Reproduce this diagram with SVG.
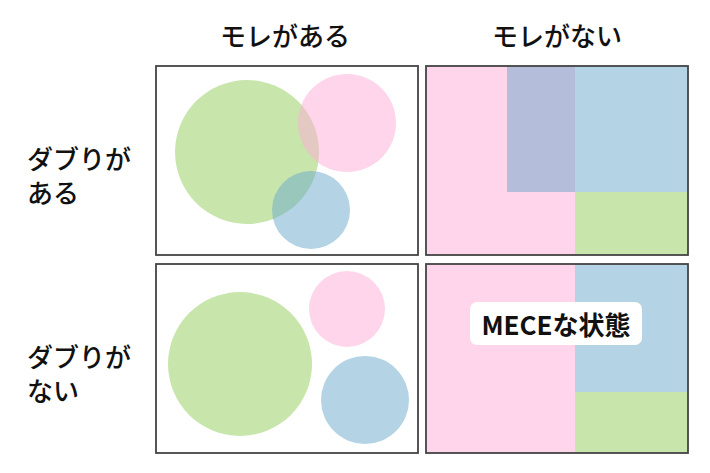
<svg xmlns="http://www.w3.org/2000/svg" width="710" height="473" viewBox="0 0 710 473">
<style>
.lbl{font-family:"Noto Sans CJK JP","Noto Sans",sans-serif;font-size:26px;font-weight:500;fill:#111}
.lbl.bold{font-weight:bold}
.frame{fill:none;stroke:#444;stroke-width:1.8}
.g{fill:#c8e6ac}
.p{fill:#fdabd5;fill-opacity:0.5}
.b{fill:#69a7cb;fill-opacity:0.5}
.ps{fill:#fed5ea}
</style>
<rect width="710" height="473" fill="#fff"/>
<g id="headers">
<text class="lbl" x="285" y="46" text-anchor="middle">モレがある</text>
<text class="lbl" x="557" y="46" text-anchor="middle">モレがない</text>
</g>
<g id="rowlabels">
<text class="lbl" x="27" y="169">ダブりが</text>
<text class="lbl" x="27" y="203">ある</text>
<text class="lbl" x="27" y="367">ダブりが</text>
<text class="lbl" x="27" y="401">ない</text>
</g>
<g id="panel-overlap-gap">
<circle class="g" cx="247" cy="152" r="72"/>
<circle class="p" cx="347" cy="123" r="49"/>
<circle class="b" cx="311" cy="210" r="39"/>
<rect class="frame" x="156" y="66" width="262" height="189"/>
</g>
<g id="panel-overlap-nogap">
<rect class="ps" x="426" y="66" width="149" height="189"/>
<rect class="b" x="507" y="66" width="181" height="126"/>
<rect class="g" x="575" y="192" width="113" height="63"/>
<rect class="frame" x="426" y="66" width="262" height="189"/>
</g>
<g id="panel-nooverlap-gap">
<circle class="g" cx="240" cy="364" r="72"/>
<circle class="p" cx="347" cy="309" r="38"/>
<circle class="b" cx="365" cy="400" r="44"/>
<rect class="frame" x="156" y="264" width="262" height="189"/>
</g>
<g id="panel-mece">
<rect class="ps" x="426" y="264" width="149" height="189"/>
<rect class="b" x="575" y="264" width="113" height="128"/>
<rect class="g" x="575" y="392" width="113" height="61"/>
<rect class="frame" x="426" y="264" width="262" height="189"/>
<rect x="470" y="302" width="172" height="43" rx="7" fill="#fff"/>
<text class="lbl bold" x="556" y="335" text-anchor="middle">MECEな状態</text>
</g>
</svg>
